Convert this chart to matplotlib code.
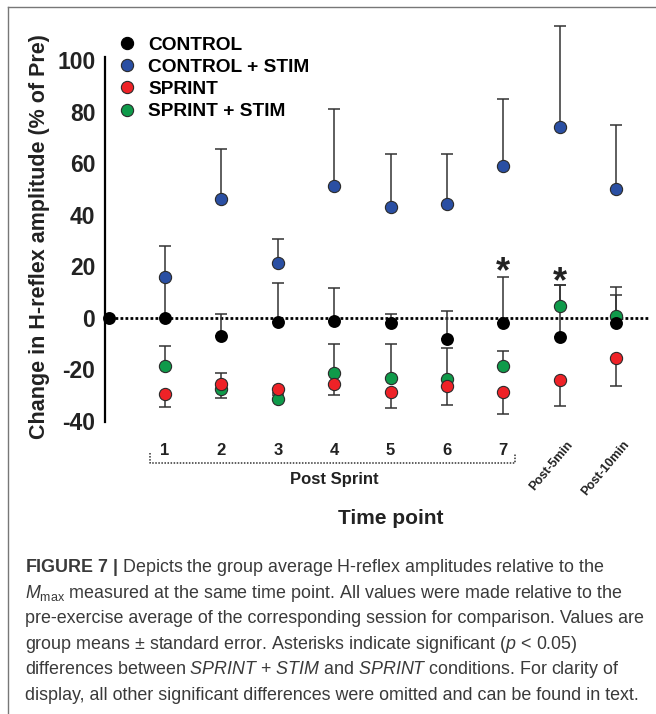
import matplotlib
matplotlib.use("Agg")
import matplotlib.pyplot as plt
from matplotlib.lines import Line2D

plt.rcParams['font.family'] = ['Liberation Sans', 'DejaVu Sans']
plt.rcParams['mathtext.fontset'] = 'custom'
plt.rcParams['mathtext.rm'] = 'Liberation Sans'
plt.rcParams['mathtext.it'] = 'Liberation Sans:italic'
plt.rcParams['mathtext.bf'] = 'Liberation Sans:bold'
plt.rcParams['axes.unicode_minus'] = False

# --- data ---
time_x = [1, 2, 3, 4, 5, 6, 7, 8, 9]
time_labels = ['1', '2', '3', '4', '5', '6', '7', 'Post-5min', 'Post-10min']
pre_x = 0
pre_y = 0

control = [0.0, -7.2, -1.7, -1.4, -2.1, -8.3, -2.1, -7.5, -2.1]
control_err = [15.0, 8.6, 15.4, 12.9, 3.5, 11.0, 17.9, 20.3, 14.0]

control_stim = [15.9, 46.0, 21.2, 51.3, 43.1, 44.3, 59.0, 73.9, 49.9]
control_stim_err = [12.1, 19.4, 9.3, 29.6, 20.3, 19.1, 26.0, 39.3, 24.9]

sprint = [-29.5, -25.6, -27.5, -25.6, -28.7, -26.6, -28.9, -24.0, -15.4]
sprint_err = [4.9, 5.5, 1.5, 4.2, 6.1, 7.1, 8.3, 10.0, 11.0]

sprint_stim = [-18.6, -27.6, -31.5, -21.2, -23.4, -23.6, -18.6, 4.6, 0.8]
sprint_stim_err = [7.5, 6.4, 1.5, 11.0, 13.2, 12.1, 5.9, 8.2, 7.9]

sig_x = [7, 8]
sig_y = [21.8, 18.0]

labels = ['CONTROL', 'CONTROL + STIM', 'SPRINT', 'SPRINT + STIM']
colors = ['black', '#2a4fa3', '#ee2227', '#0f9a4a']

caption = [
    r"$\mathbf{FIGURE\ 7\ |}$ Depicts the group average H-reflex amplitudes relative to the",
    r"$M_{\mathrm{max}}$ measured at the same time point. All values were made relative to the",
    r"pre-exercise average of the corresponding session for comparison. Values are",
    r"group means ± standard error. Asterisks indicate significant ($p$ < 0.05)",
    r"differences between $\mathit{SPRINT}$ + $\mathit{STIM}$ and $\mathit{SPRINT}$ conditions. For clarity of",
    r"display, all other significant differences were omitted and can be found in text.",
]

W, H = 656, 714
fig = plt.figure(figsize=(W / 100, H / 100), dpi=100)
ax = fig.add_axes([105 / W, 1 - 421 / H, 545 / W, 361 / H])
ax.set_xlim(-0.064, 9.6)
ax.set_ylim(-40, 100)

err_kw = dict(fmt='none', ecolor='#333333', elinewidth=1.1, capsize=4,
              capthick=1.1, clip_on=False, zorder=2)
zeros = [0] * len(time_x)
ax.errorbar(time_x, control, yerr=[zeros, control_err], **err_kw)
ax.errorbar(time_x, control_stim, yerr=[zeros, control_stim_err], **err_kw)
ax.errorbar(time_x, sprint, yerr=[sprint_err, zeros], **err_kw)
ax.errorbar(time_x, sprint_stim, yerr=[zeros, sprint_stim_err], **err_kw)

ax.axhline(0, color='black', lw=2, ls=(0, (1, 0.8)), zorder=1)

mk = dict(ls='none', marker='o', ms=8.8, mec='#2b2b2b', mew=0.8, clip_on=False)
ax.plot(time_x, sprint_stim, mfc=colors[3], zorder=3, **mk)
ax.plot(time_x, sprint, mfc=colors[2], zorder=4, **mk)
ax.plot(time_x, control_stim, mfc=colors[1], zorder=5, **mk)
ax.plot(time_x, control, ls='none', marker='o', ms=9.3, color='black',
        mew=0, zorder=6, clip_on=False)
ax.plot([pre_x], [pre_y], ls='none', marker='o', ms=9.3, color='black',
        mew=0, zorder=6, clip_on=False)

for x, y in zip(sig_x, sig_y):
    ax.annotate('*', (x, y), xytext=(0, -0.57 * 26), textcoords='offset points',
                ha='center', va='baseline', fontsize=26, fontweight='bold',
                color='#222222')

# axes styling
for s in ['top', 'right', 'bottom']:
    ax.spines[s].set_visible(False)
ax.spines['left'].set_linewidth(1.6)
ax.spines['left'].set_bounds(-40.5, 101)
ax.set_yticks([-40, -20, 0, 20, 40, 60, 80, 100])
ax.tick_params(axis='y', length=0, pad=7, labelsize=16.5)
for t in ax.get_yticklabels():
    t.set_fontweight('bold')
    t.set_color('#222222')
ax.set_xticks([])

# x labels
xt = ax.get_xaxis_transform()
for x, lab in zip(time_x, time_labels):
    if lab.startswith('Post'):
        ax.text(x + 0.2, -0.06, lab, transform=xt, rotation=50,
                rotation_mode='anchor', ha='right', va='center',
                fontsize=9, fontweight='bold', color='#222222')
    else:
        ax.text(x, -0.083, lab, transform=xt, ha='center', va='center',
                fontsize=12, fontweight='bold', color='#222222')

# post sprint bracket
ax.plot([0.73, 0.73, 7.2, 7.2], [-0.089, -0.116, -0.116, -0.089], transform=xt,
        color='#333333', lw=1.1, ls=(0, (1, 1)), clip_on=False)
ax.text(4.0, -0.163, 'Post Sprint', transform=xt, ha='center', va='center',
        fontsize=12, fontweight='bold', color='#222222')
ax.text(5.0, -0.269, 'Time point', transform=xt, ha='center', va='center',
        fontsize=15, fontweight='bold', color='#222222')

fig.text(40 / W, 1 - 237 / H, 'Change in H-reflex amplitude (% of Pre)',
         rotation=90, ha='center', va='center', fontsize=15.5,
         fontweight='bold', color='#222222')

handles = [Line2D([], [], ls='none', marker='o', ms=8.8, mfc=c,
                  mec='#2b2b2b' if c != 'black' else 'black', mew=0.8)
           for c in colors]
ax.legend(handles, labels, loc='upper left', bbox_to_anchor=(0.0231, 1.066),
          frameon=False, handlelength=1.0, handletextpad=0.6, borderpad=0,
          borderaxespad=0, labelspacing=0.25,
          prop=dict(weight='bold', size=13.8))

# caption
for i, line in enumerate(caption):
    fig.text(25 / W, 1 - (572 + 25.6 * i) / H, line, ha='left', va='baseline',
             fontsize=12.85, color='#3a3a3a')

# frame
fig.add_artist(Line2D([8 / W, 1], [1 - 7 / H, 1 - 7 / H], transform=fig.transFigure,
                      color='#777777', lw=1))
fig.add_artist(Line2D([8 / W, 8 / W], [0, 1 - 7 / H], transform=fig.transFigure,
                      color='#777777', lw=1))

fig.savefig('out.png', dpi=100)
